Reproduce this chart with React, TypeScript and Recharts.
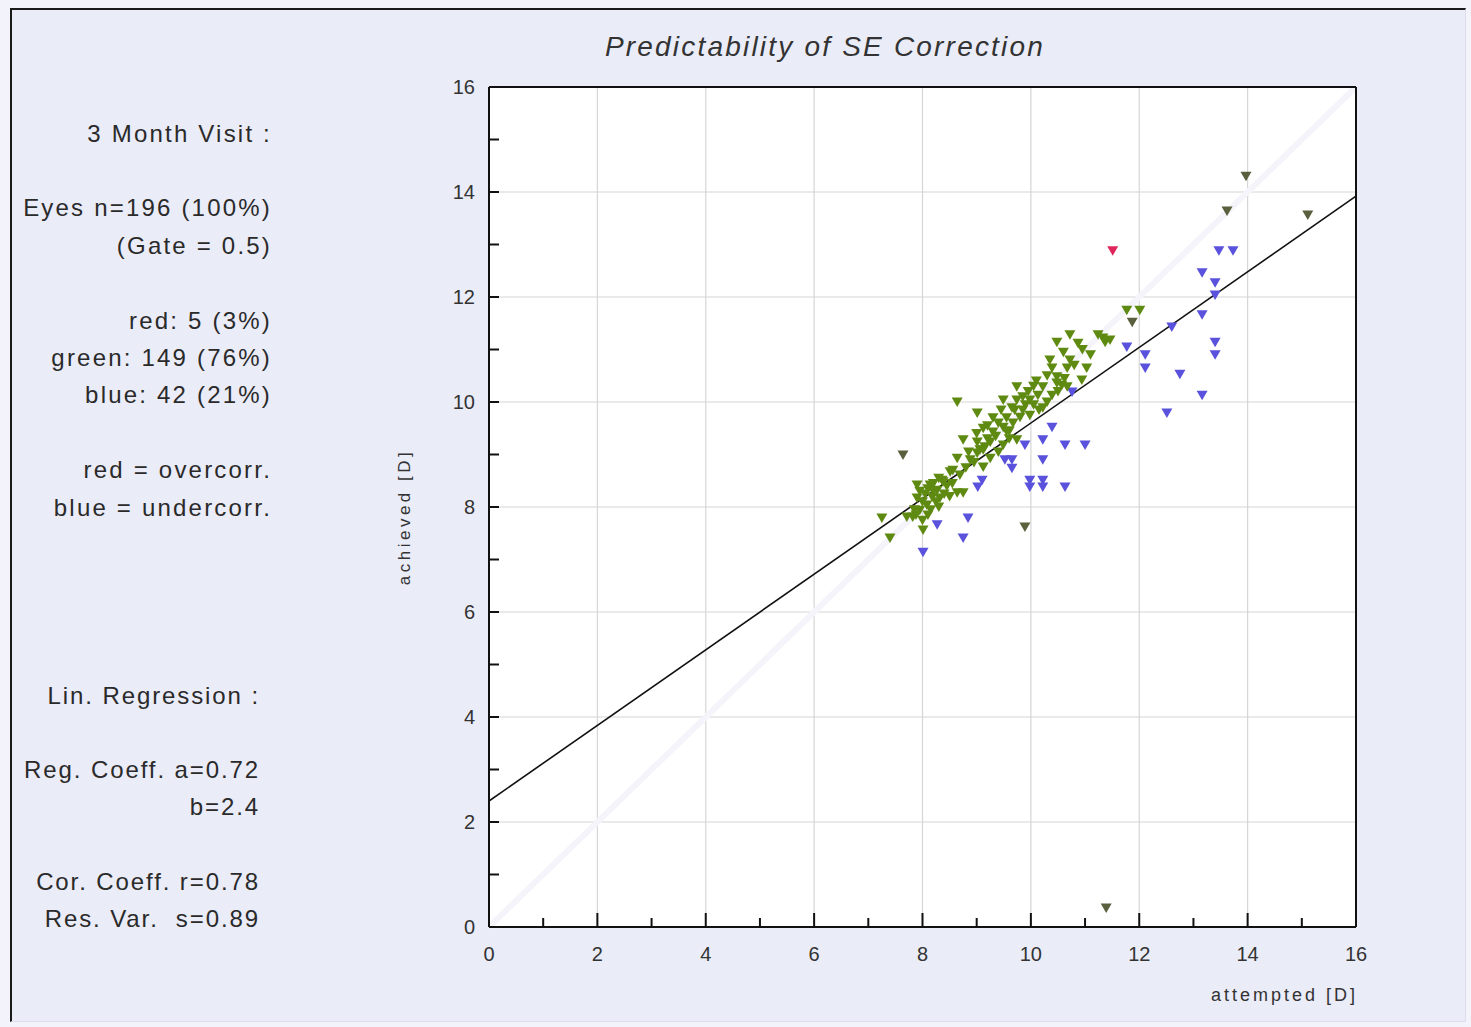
import React from 'react';
import { ScatterChart, Scatter, XAxis, YAxis, CartesianGrid, ReferenceLine } from 'recharts';

// ---- data (attempted [D], achieved [D]) ----
const greenEyes: [number, number][] = [
  [10.72, 11.28], [10.48, 11.14], [10.87, 11.12], [11.24, 11.28], [11.37, 11.14], [11.46, 11.18], [11.77, 11.75], [12.01, 11.75],
  [10.72, 10.8], [10.39, 10.65], [10.67, 10.65], [11.03, 10.65], [10.8, 10.7], [10.48, 10.48], [10.94, 10.42], [10.57, 10.32], [10.62, 10.45],
  [9.74, 10.29], [10.22, 10.29], [10.48, 10.36], [10.67, 10.29], [10.39, 10.13], [10.13, 10.13], [9.49, 10.04], [9.74, 10.04], [9.98, 10.04],
  [10.22, 9.89], [9.65, 9.89], [9.85, 9.85], [9.8, 9.71], [9.98, 9.75], [8.64, 10.0], [9.01, 9.79], [10.05, 9.95], [9.9, 9.95],
  [9.12, 9.5], [9.3, 9.43], [9.49, 9.52], [9.67, 9.6], [9.2, 9.55], [9.4, 9.6], [9.55, 9.7], [9.6, 9.45], [9.35, 9.35],
  [8.75, 9.28], [9.01, 9.24], [9.25, 9.24], [9.49, 9.18], [9.74, 9.28], [9.06, 9.09], [9.15, 9.15], [9.6, 9.3],
  [8.64, 8.93], [8.88, 8.9], [9.25, 8.93], [9.12, 8.76], [8.56, 8.7], [9.01, 9.03], [9.12, 9.09], [8.51, 8.67], [8.69, 8.61], [8.8, 8.75], [8.95, 8.85],
  [8.36, 8.51], [8.14, 8.42], [7.9, 8.42], [8.27, 8.32], [8.38, 8.48], [8.64, 8.27], [8.75, 8.27], [8.45, 8.4], [8.2, 8.3],
  [7.9, 8.17], [8.18, 8.19], [8.32, 8.17], [8.08, 8.04], [7.95, 7.94], [8.25, 8.1], [8.05, 8.25], [8.0, 8.1],
  [7.71, 7.81], [7.82, 7.81], [7.88, 7.85], [7.25, 7.79], [8.01, 7.56], [7.4, 7.41], [8.15, 7.95], [8.1, 7.85],
  [11.33, 11.22], [11.1, 10.9], [10.3, 10.5], [10.1, 10.4], [9.95, 10.2], [10.3, 10.0], [10.5, 10.2],
  [8.2, 8.45], [8.3, 8.0], [8.4, 8.25], [8.1, 8.35], [7.95, 8.3], [8.55, 8.45], [8.5, 8.2], [8.3, 8.55], [7.85, 7.95], [8.0, 7.75],
  [9.3, 9.7], [9.45, 9.85], [9.2, 9.3], [9.55, 9.45], [9.7, 9.85], [9.85, 10.1], [10.05, 10.3], [10.35, 10.8], [10.6, 10.95],
  [10.95, 11.0], [9.0, 9.4], [8.85, 9.05], [9.4, 9.05], [10.15, 9.85],
];
const blueEyes: [number, number][] = [
  [13.47, 12.88], [13.73, 12.88], [13.16, 12.46], [13.4, 12.27], [13.4, 12.04], [13.16, 11.66], [12.6, 11.43],
  [11.77, 11.05], [12.11, 10.9], [12.11, 10.65], [13.4, 11.14], [13.4, 10.9], [12.75, 10.53], [13.16, 10.13], [12.51, 9.79],
  [10.76, 10.19], [10.39, 9.52], [9.89, 9.18], [10.22, 9.28], [10.22, 8.9], [10.63, 9.18], [11.0, 9.18],
  [9.52, 8.9], [9.65, 8.9], [9.65, 8.74], [9.98, 8.51], [9.98, 8.38], [10.22, 8.51], [10.22, 8.38], [10.63, 8.38],
  [9.02, 8.38], [9.1, 8.51], [8.27, 7.66], [8.84, 7.79], [8.75, 7.41], [8.01, 7.14],
];
const redEyes: [number, number][] = [[11.51, 12.88]];
const darkEyes: [number, number][] = [
  [13.97, 14.3], [15.11, 13.56], [9.89, 7.62], [7.64, 8.99], [11.39, 0.36], [11.87, 11.52], [13.62, 13.64],
];
const regA = 0.72;
const regB = 2.4;
const axisTicks = [0, 1, 2, 3, 4, 5, 6, 7, 8, 9, 10, 11, 12, 13, 14, 15, 16];
const gridValues = [2, 4, 6, 8, 10, 12, 14];

const infoTop = [
  '3 Month Visit :', '', 'Eyes n=196 (100%)', '(Gate = 0.5)', '', 'red: 5 (3%)', 'green: 149 (76%)', 'blue: 42 (21%)', '', 'red = overcorr.', 'blue = undercorr.',
];
const infoBottom = [
  'Lin. Regression :', '', 'Reg. Coeff. a=0.72', 'b=2.4', '', 'Cor. Coeff. r=0.78', 'Res. Var.\u00a0\u00a0s=0.89',
];

const toPts = (arr: [number, number][]) => arr.map(([x, y]) => ({ x, y }));

const FONT = '"Liberation Sans", Arial, sans-serif';

const tri = (color: string) => (props: any) => {
  const { cx, cy } = props;
  if (cx == null || cy == null) return <g />;
  return (
    <path
      d={`M${cx - 5.5},${cy - 4.5} L${cx + 5.5},${cy - 4.5} L${cx},${cy + 5} Z`}
      fill={color}
    />
  );
};

const XTick = (props: any) => {
  const { x, y, payload } = props;
  const v = payload.value as number;
  const major = v % 2 === 0;
  return (
    <g>
      <line x1={x} y1={y} x2={x} y2={y - (major ? 14 : 9)} stroke="#111" strokeWidth={2} />
      {major && (
        <text x={x} y={y + 34} textAnchor="middle" fontSize={20} fill="#333" fontFamily={FONT}>
          {v}
        </text>
      )}
    </g>
  );
};

const YTick = (props: any) => {
  const { x, y, payload } = props;
  const v = payload.value as number;
  const major = v % 2 === 0;
  return (
    <g>
      <line x1={x} y1={y} x2={x + 10} y2={y} stroke="#111" strokeWidth={2} />
      {major && (
        <text x={x - 14} y={y} dy={7} textAnchor="end" fontSize={20} fill="#333" fontFamily={FONT}>
          {v}
        </text>
      )}
    </g>
  );
};

export default function App() {
  const regLine = [
    { x: 0, y: regB },
    { x: 16, y: regA * 16 + regB },
  ];
  return (
    <div style={{ position: 'absolute', left: 0, top: 0, width: 1471, height: 1027, background: '#f3f3fb', overflow: 'hidden' }}>
      <div
        style={{
          position: 'absolute', left: 10, top: 8, width: 1456, height: 1014,
          background: '#eaecf8', borderLeft: '2px solid #1a1a1a', borderTop: '2px solid #1a1a1a',
          borderRight: '1px solid #dcdcec', borderBottom: '1px solid #dcdcec', boxSizing: 'border-box',
        }}
      />
      <div style={{ position: 'absolute', left: 0, top: 0 }}>
        <ScatterChart width={1471} height={1027} margin={{ top: 87, right: 115, bottom: 60, left: 429 }}>
          <CartesianGrid
            fill="#ffffff"
            fillOpacity={1}
            stroke="#d6d6d6"
            strokeWidth={1.2}
            horizontalValues={gridValues}
            verticalValues={gridValues}
          />
          <XAxis
            type="number"
            dataKey="x"
            domain={[0, 16]}
            ticks={axisTicks}
            interval={0}
            height={40}
            tickSize={0}
            tickMargin={0}
            tickLine={false}
            tick={<XTick />}
            axisLine={{ stroke: '#111', strokeWidth: 2 }}
            allowDataOverflow
          />
          <YAxis
            type="number"
            dataKey="y"
            domain={[0, 16]}
            ticks={axisTicks}
            interval={0}
            width={60}
            tickSize={0}
            tickMargin={0}
            tickLine={false}
            tick={<YTick />}
            axisLine={{ stroke: '#111', strokeWidth: 2 }}
            allowDataOverflow
          />
          <ReferenceLine
            segment={[{ x: 0, y: 0 }, { x: 16, y: 16 }]}
            stroke="#f4f4fa"
            strokeWidth={6}
          />
          <ReferenceLine y={16} stroke="#111" strokeWidth={2} />
          <ReferenceLine x={16} stroke="#111" strokeWidth={2} />
          <Scatter data={toPts(blueEyes)} shape={tri('#5a52dc')} isAnimationActive={false} />
          <Scatter data={toPts(greenEyes)} shape={tri('#5f8a12')} isAnimationActive={false} />
          <Scatter data={toPts(redEyes)} shape={tri('#e0245c')} isAnimationActive={false} />
          <Scatter data={toPts(darkEyes)} shape={tri('#5a5f3e')} isAnimationActive={false} />
          <ReferenceLine segment={regLine} stroke="#111" strokeWidth={1.6} />
        </ScatterChart>
      </div>
      <svg width={1471} height={1027} style={{ position: 'absolute', left: 0, top: 0, pointerEvents: 'none' }}>
        <text x={825} y={46} textAnchor="middle" dominantBaseline="central" fontSize={28} fontStyle="italic"
          fill="#333" fontFamily={FONT} letterSpacing={2.2}>
          Predictability of SE Correction
        </text>
        {infoTop.map((t, i) =>
          t ? (
            <text key={'t' + i} x={272} y={133 + i * 37.4} textAnchor="end" dominantBaseline="central"
              fontSize={24} fill="#2a2a2a" fontFamily={FONT} letterSpacing={2.2}>
              {t}
            </text>
          ) : null
        )}
        {infoBottom.map((t, i) =>
          t ? (
            <text key={'b' + i} x={260} y={695 + i * 37.2} textAnchor="end" dominantBaseline="central"
              fontSize={24} fill="#2a2a2a" fontFamily={FONT} letterSpacing={1.9}>
              {t}
            </text>
          ) : null
        )}
        <text x={404} y={517} textAnchor="middle" dominantBaseline="central" fontSize={17}
          fill="#333" fontFamily={FONT} letterSpacing={3.5} transform="rotate(-90 404 517)">
          achieved [D]
        </text>
        <text x={1358} y={995} textAnchor="end" dominantBaseline="central" fontSize={18}
          fill="#333" fontFamily={FONT} letterSpacing={3}>
          attempted [D]
        </text>
      </svg>
    </div>
  );
}
